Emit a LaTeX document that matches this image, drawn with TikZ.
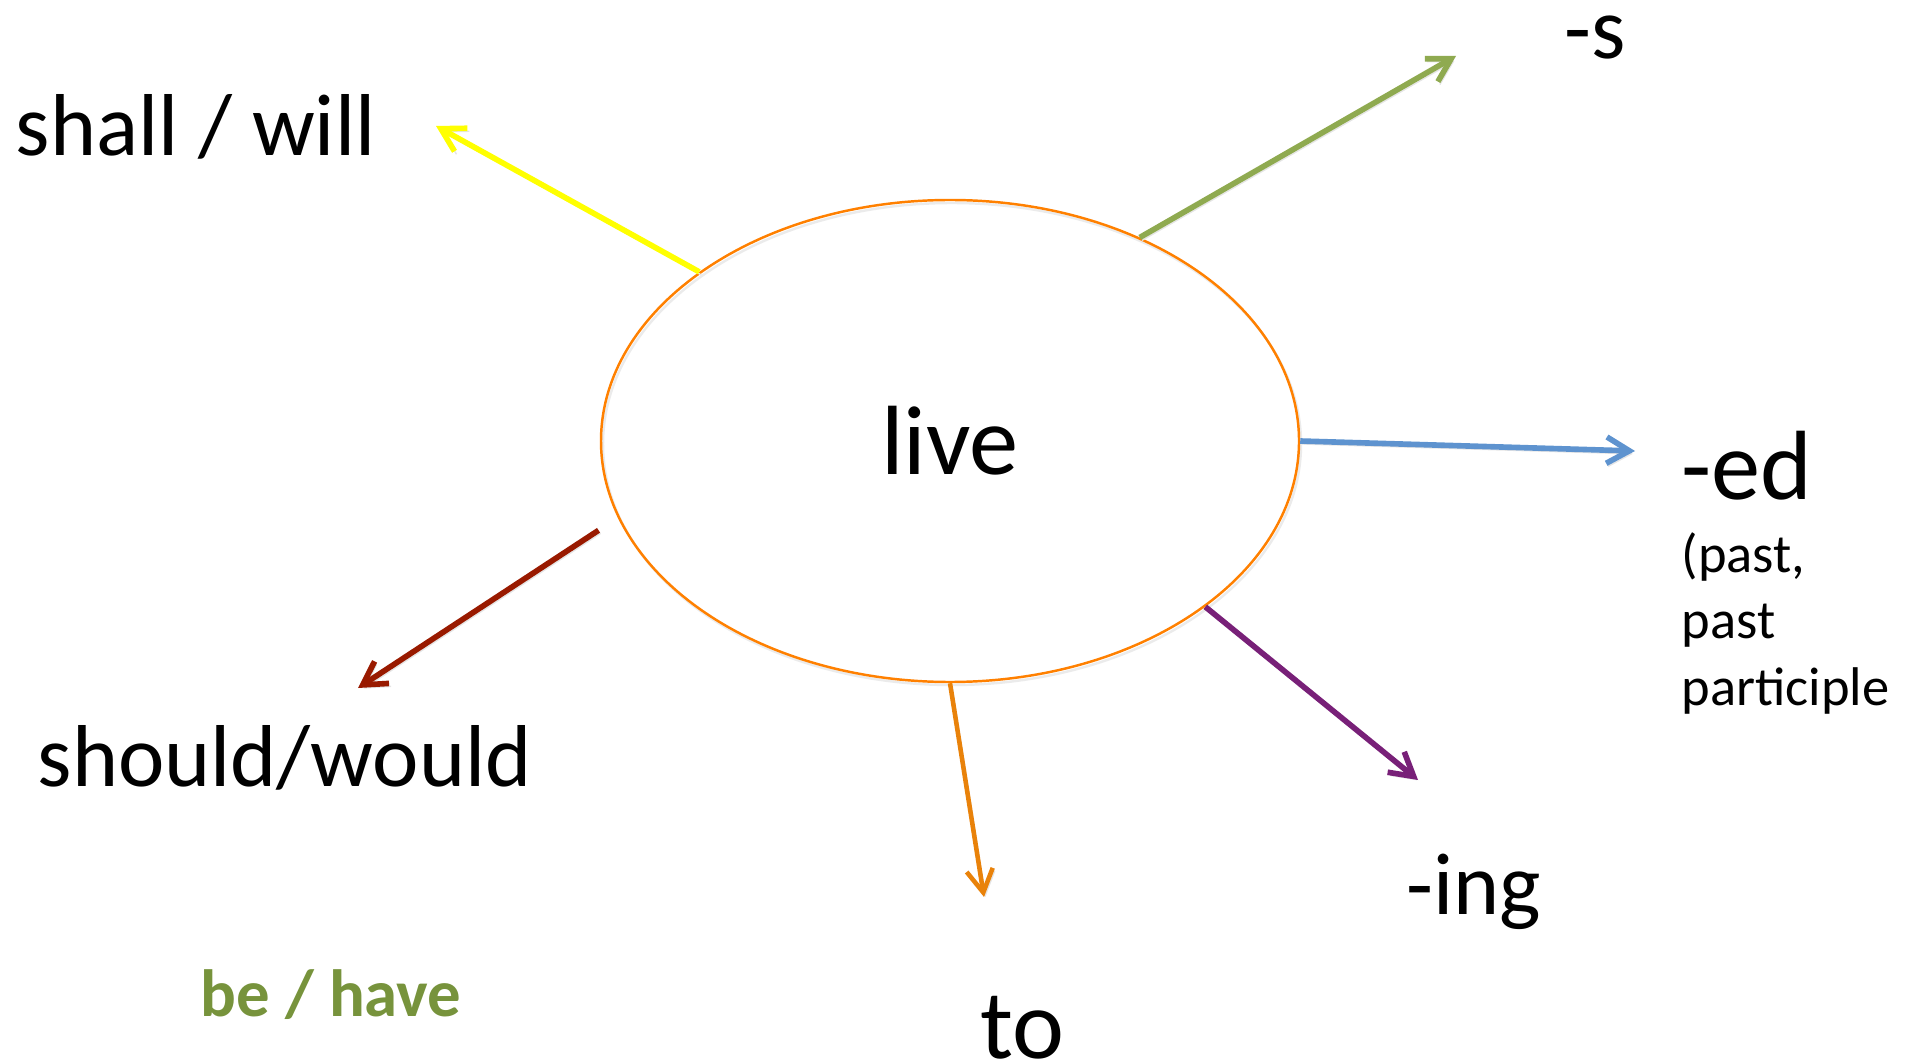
\documentclass[tikz,border=0pt]{standalone}
\usepackage{fontspec}
\setmainfont{Carlito}
\usetikzlibrary{arrows.meta,shapes.geometric}
\definecolor{ringorange}{HTML}{FF8000}
\definecolor{shallyellow}{HTML}{FFFF00}
\definecolor{sgreen}{HTML}{8FAA50}
\definecolor{edblue}{HTML}{5E93CF}
\definecolor{wouldred}{HTML}{991A00}
\definecolor{toorange}{HTML}{E9820A}
\definecolor{ingpurple}{HTML}{782078}
\definecolor{havegreen}{HTML}{77933C}
\tikzset{
	form/.style={-{Straight Barb[length=6.5pt,width=7.5pt]}, line width=1.6pt,
		preaction={draw=black!10, transform canvas={shift={(0.02,-0.03)}}}},
	word/.style={anchor=base west, inner sep=0pt, font=\fontsize{25}{30}\selectfont},
	bigword/.style={word, font=\fontsize{28}{34}\selectfont},
}

\begin{document}
\begin{tikzpicture}
			%%%%% START %%%%%
			
			\useasboundingbox (0, 0) rectangle (19.12, 10.62);
			
			\node[ellipse, draw=ringorange, line width=0.7pt, minimum width=6.98cm, minimum height=4.82cm, inner sep=0pt,
				preaction={draw=black!8, transform canvas={shift={(0.02,-0.03)}}},
				font=\fontsize{28}{34}\selectfont] (live) at (9.50, 6.21) {live};
			
			\node[word] (shall) at (0.15, 9.06) {shall / will};
			\node[word] (s) at (15.64, 10.03) {-s};
			\node[bigword] (ed) at (16.81, 5.62) {-ed};
			% base of a multi-line node sits on its last line
			\node[word, font=\fontsize{15.5}{18.8}\selectfont, align=left] (ednote) at (16.81, 3.57) {(past,\\past\\participle};
			\node[word] (would) at (0.37, 2.76) {should/would};
			\node[word] (ing) at (14.06, 1.48) {-ing};
			\node[bigword] (to) at (9.80, 0.04) {to};
			\node[word, font=\fontsize{19}{23}\selectfont\bfseries, text=havegreen] (behave) at (2.00, 0.46) {be / have};
			
			\coordinate (shalltip) at (4.36, 9.36);
			\coordinate (stip) at (14.56, 10.06);
			\coordinate (edtip) at (16.35, 6.11);
			\coordinate (wouldtip) at (3.58, 3.74);
			\coordinate (totip) at (9.84, 1.65);
			\coordinate (ingtip) at (14.18, 2.82);
			
			\draw[form, draw=shallyellow] (live.146) -- (shalltip);
			\draw[form, draw=sgreen] (live.47) -- (stip);
			\draw[form, draw=edblue] (live.0) -- (edtip);
			\draw[form, draw=wouldred, shorten <=0.23cm] (live.193) -- (wouldtip);
			\draw[form, draw=toorange, line width=1.3pt] (live.270) -- (totip);
			\draw[form, draw=ingpurple] (live.327) -- (ingtip);
			
			%%%%% END %%%%%
\end{tikzpicture}
\end{document}
